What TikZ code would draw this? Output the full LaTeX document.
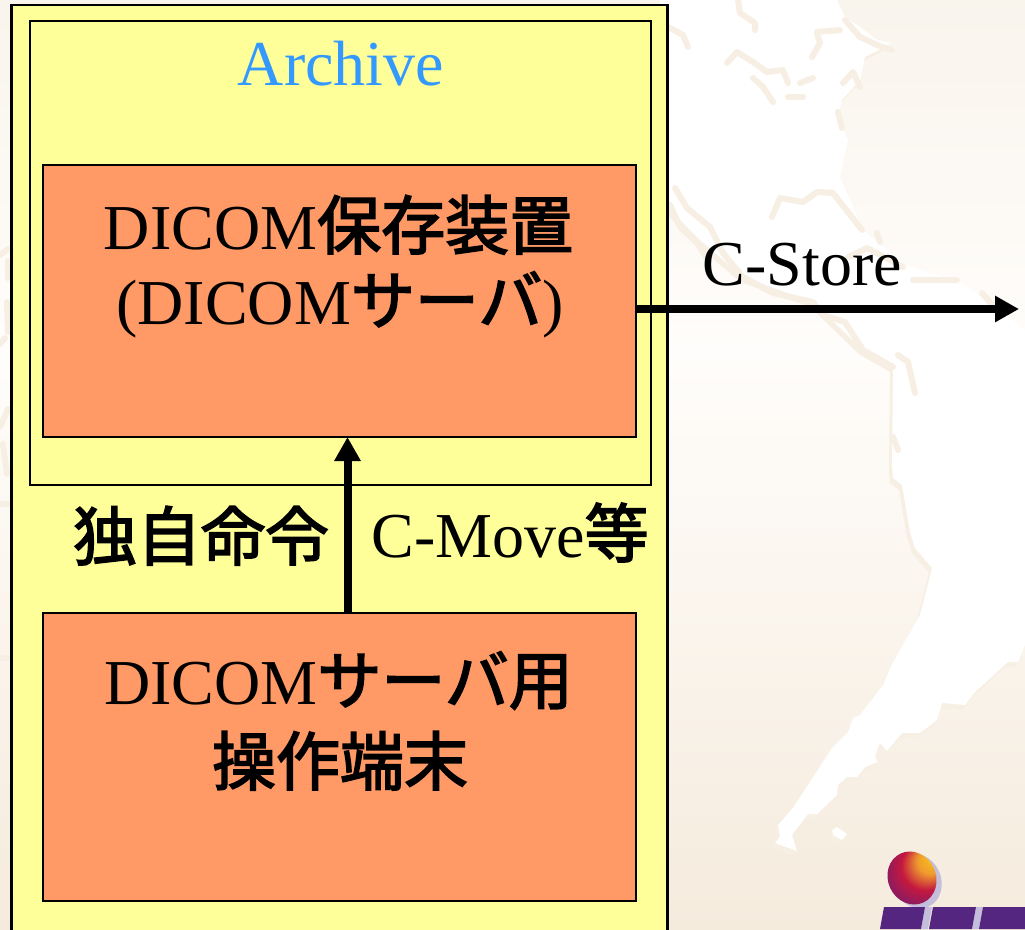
\documentclass[tikz,border=0pt]{standalone}
\usepackage{fontspec}
\setmainfont{Liberation Serif}
\newfontfamily\cjk[FakeBold=2.6]{Noto Sans CJK JP}
\usetikzlibrary{arrows.meta}
\definecolor{panelyellow}{HTML}{FFFF99}
\definecolor{boxorange}{HTML}{FF9966}
\definecolor{archiveblue}{HTML}{3399FF}
\definecolor{bgtop}{HTML}{F9F4EC}
\definecolor{bgmid}{HTML}{FFFDFB}
\definecolor{bgbot}{HTML}{F5EBDD}
\definecolor{maptan}{HTML}{F7EFE3}
\definecolor{logopurple}{HTML}{55267F}
\definecolor{logolilac}{HTML}{C4BDDC}
\definecolor{ballyellow}{HTML}{FFD010}
\definecolor{ballorange}{HTML}{EE9A2E}
\definecolor{ballred}{HTML}{C4183F}
\definecolor{ballplum}{HTML}{7E1C68}
\definecolor{ballviolet}{HTML}{4F2484}
\pgfdeclareradialshading{logoball}{\pgfpoint{22bp}{24bp}}{%
  color(0bp)=(ballyellow);
  color(12bp)=(ballorange);
  color(22bp)=(ballred);
  color(34bp)=(ballplum);
  color(46bp)=(ballviolet);
  color(50bp)=(ballviolet)}
\newcommand{\jp}[1]{{\cjk #1}}
\tikzset{
  panel/.style={draw=black,fill=panelyellow,line width=2pt,inner sep=0pt,outer sep=0pt,anchor=north west},
  unitbox/.style={draw=black,fill=boxorange,line width=2pt,inner sep=0pt,outer sep=0pt,anchor=north west},
  caption/.style={inner sep=0pt,anchor=base,font=\fontsize{64}{78}\selectfont},
  flow/.style={line width=8pt,-{Triangle[length=24pt,width=25pt]},shorten >=0pt},
  coast/.style={draw=maptan,line width=6pt,line join=round,line cap=round}
}
\begin{document}
\begin{tikzpicture}[x=1pt,y=-1pt]
\useasboundingbox (0,0) rectangle (1025,929);
\clip (0,0) rectangle (1025,929);
% background
\shade[top color=bgtop,bottom color=bgmid] (0,0) rectangle (1025,350.5);
\shade[top color=bgmid,bottom color=bgbot] (0,350) rectangle (1025,929);
% white continents
\def\landpath{(660,0) -- (837,0) -- (845,17) -- (860,27) -- (877,40) -- (892,43) -- (865,57) -- (860,80) -- (842,100) -- (837,117) -- (848,140) -- (840,177) -- (863,230) -- (905,265) -- (960,282) -- (1000,310) -- (1025,330) -- (1025,645) -- (1018,662) -- (1008,662) -- (975,692) -- (965,705) -- (942,703) -- (937,720) -- (920,733) -- (902,733) -- (887,751) -- (880,743) -- (875,755) -- (877,762) -- (865,767) -- (857,777) -- (847,777) -- (838,785) -- (837,795) -- (817,814) -- (808,814) -- (792,835) -- (797,851) -- (775,843) -- (780,837) -- (778,825) -- (793,808) -- (832,748) -- (848,732) -- (853,718) -- (860,715) -- (883,685) -- (890,668) -- (897,655) -- (920,615) -- (932,568) -- (915,548) -- (910,532) -- (902,485) -- (893,478) -- (892,465) -- (893,367) -- (863,350) -- (813,302) -- (743,277) -- (700,240) -- (660,200) -- cycle}
\def\islepath{(832,830) -- (837,827) -- (847,834) -- (842,840) -- (833,835) -- cycle}
\fill[maptan,shift={(-3,5)}] \landpath;
\fill[maptan,shift={(-3,5)}] \islepath;
\fill[white] \landpath;
\fill[white] \islepath;
% coast lines
\draw[coast] (738,0) -- (740,13) -- (755,23) -- (755,30);
\draw[coast] (668,27) -- (683,35) -- (688,47);
\draw[coast] (727,63) -- (737,52) -- (753,62) -- (767,72) -- (783,70) -- (788,83);
\draw[coast] (753,78) -- (763,87) -- (773,102);
\draw[coast] (788,97) -- (803,97);
\draw[coast] (800,83) -- (813,78);
\draw[coast] (817,32) -- (840,30);
\draw[coast] (817,33) -- (820,43) -- (812,57);
\draw[coast] (845,20) -- (860,37) -- (877,45) -- (892,50);
\draw[coast] (843,83) -- (853,72) -- (860,87);
\draw[coast] (838,112) -- (842,128);
\draw[coast] (772,217) -- (780,198) -- (803,202) -- (817,192) -- (833,193) -- (862,230);
\draw[coast] (848,257) -- (867,248) -- (903,267);
\draw[coast] (913,280) -- (957,280);
\draw[coast] (982,293) -- (997,310);
\draw[coast] (877,233) -- (880,242);
\draw[coast] (675,188) -- (687,208) -- (710,227) -- (723,253) -- (743,277) -- (773,293) -- (813,302) -- (823,315) -- (845,322) -- (863,350) -- (893,367);
\draw[coast] (670,205) -- (680,227) -- (697,243) -- (708,260);
\draw[coast] (898,355) -- (908,362) -- (915,393);
\draw[coast] (893,437) -- (898,450);
\draw[coast] (0,255) -- (8,249);
\draw[coast] (8,261) -- (8,278);
\draw[coast] (7,302) -- (8,332);
\draw[coast] (0,344) -- (5,338);
\draw[coast] (0,427) -- (8,409);
\draw[coast] (3,444) -- (7,474);
\draw[coast] (0,504) -- (8,504);
\draw[coast] (0,658) -- (8,658);
% logo
\fill[logolilac,rotate around={25:(917,881)}] (917,881) ellipse[x radius=24,y radius=28];
\shade[shading=logoball,rotate around={25:(912,878)}] (912,878) ellipse[x radius=24,y radius=27];
\fill[logolilac] (925,907) -- (932,907) -- (928,929) -- (921,929) -- cycle;
\fill[logolilac] (976,907) -- (983,907) -- (979,929) -- (972,929) -- cycle;
\fill[logopurple] (884,907) -- (925,907) -- (921,929) -- (880,929) -- cycle;
\fill[logopurple] (933,907) -- (976,907) -- (972,929) -- (929,929) -- cycle;
\fill[logopurple] (983,907) -- (1025,907) -- (1025,929) -- (979,929) -- cycle;
% boxes
\node[panel,line width=2.4pt,minimum width=656pt,minimum height=940pt] (outer) at (11.5,5) {};
\node[panel,minimum width=621pt,minimum height=464pt] (archive) at (30,21) {};
\node[unitbox,minimum width=593pt,minimum height=272pt] (store) at (43,165) {};
\node[unitbox,minimum width=593pt,minimum height=288pt] (terminal) at (43,613) {};
% texts
\node[caption,text=archiveblue] (archivetitle) at (341,85) {Archive};
\node[caption] (storeone) at (338.5,249) {DICOM\jp{保存装置}};
\node[caption] (storetwo) at (340,324) {(DICOM\jp{サーバ})};
\node[caption] (cstore) at (802.5,285) {C-Store};
\node[caption] (ownorder) at (201,560) {\jp{独自命令}};
\node[caption] (cmove) at (510,557) {C-Move\jp{等}};
\node[caption] (termone) at (338.5,704) {DICOM\jp{サーバ用}};
\node[caption] (termtwo) at (340,785) {\jp{操作端末}};
% connectors
\coordinate (moveaxis) at (347.5,525);
\coordinate (storeend) at (1019,309);
\draw[flow] (moveaxis |- terminal.north) -- (moveaxis |- store.south);
\draw[flow] (store.east |- storeend) -- (storeend);
\end{tikzpicture}
\end{document}
